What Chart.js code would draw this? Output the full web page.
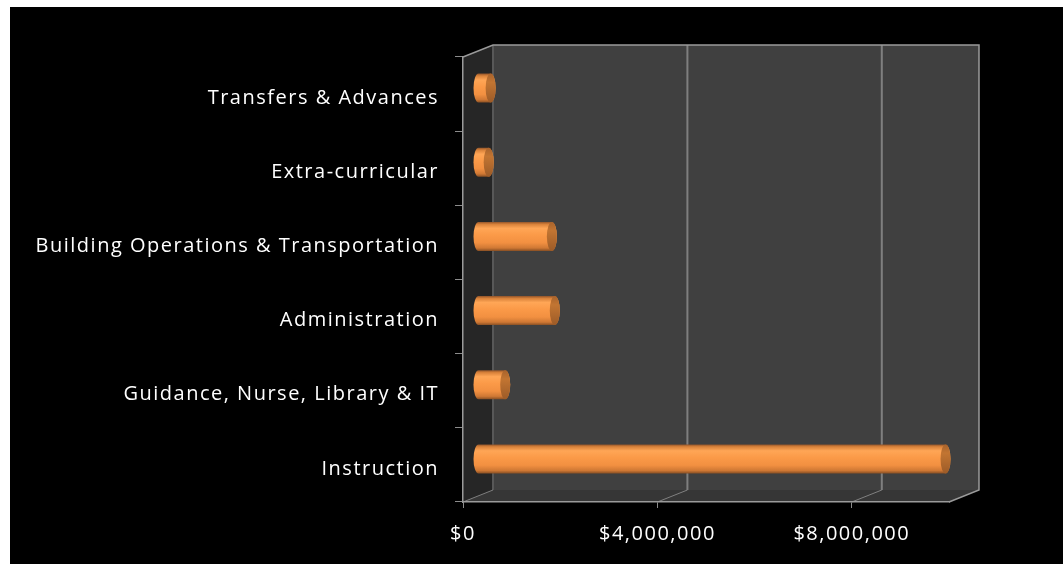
<!DOCTYPE html>
<html>
<head>
<meta charset="utf-8">
<title>Spending by Function</title>
<script src="https://cdn.jsdelivr.net/npm/chart.js@4.4.1/dist/chart.umd.min.js"></script>
<style>
  html, body { margin: 0; padding: 0; background: #ffffff; }
  #wrap { position: absolute; left: 10px; top: 7px; width: 1053px; height: 557px; }
  canvas { display: block; }
</style>
</head>
<body>
<div id="wrap"><canvas id="gastos" width="1053" height="557"></canvas></div>
<script>
// Categorias de cima para baixo e valores gastos (US$)
const categories = [
    "Transfers & Advances",
    "Extra-curricular",
    "Building Operations & Transportation",
    "Administration",
    "Guidance, Nurse, Library & IT",
    "Instruction"
];
const spending = [260000, 220000, 1520000, 1580000, 560000, 9620000];
const tickValues = [0, 4000000, 8000000];
const axisMax = 10000000;

// Deslocamento da profundidade (efeito 3D)
const DX = 30;
const DY = -12;

// Fundo, paredes e grade da parede de trás
const walls = {
    id: 'walls',
    beforeDraw(chart) {
        const ctx = chart.ctx;
        const { left: L, right: R, top: T, bottom: B } = chart.chartArea;
        const xs = chart.scales.x;

        ctx.save();
        ctx.fillStyle = '#000000';
        ctx.fillRect(0, 0, chart.width, chart.height);

        // parede esquerda
        ctx.fillStyle = '#262626';
        ctx.beginPath();
        ctx.moveTo(L, T); ctx.lineTo(L + DX, T + DY); ctx.lineTo(L + DX, B + DY); ctx.lineTo(L, B);
        ctx.closePath(); ctx.fill();

        // chão
        ctx.fillStyle = '#363636';
        ctx.beginPath();
        ctx.moveTo(L, B); ctx.lineTo(L + DX, B + DY); ctx.lineTo(R + DX, B + DY); ctx.lineTo(R, B);
        ctx.closePath(); ctx.fill();

        // parede de trás
        ctx.fillStyle = '#404040';
        ctx.fillRect(L + DX, T + DY, R - L, B - T);

        // linhas de grade verticais na parede de trás + diagonais no chão
        xs.ticks.forEach(t => {
            const px = xs.getPixelForValue(t.value);
            ctx.strokeStyle = t.value === 0 ? '#585858' : '#7f7f7f';
            ctx.lineWidth = 2;
            ctx.beginPath();
            ctx.moveTo(px + DX, T + DY);
            ctx.lineTo(px + DX, B + DY);
            ctx.stroke();
            ctx.strokeStyle = '#808080';
            ctx.lineWidth = 1;
            ctx.beginPath();
            ctx.moveTo(px, B);
            ctx.lineTo(px + DX, B + DY);
            ctx.stroke();
        });

        // bordas
        ctx.strokeStyle = '#9a9a9a';
        ctx.lineWidth = 1.5;
        ctx.beginPath();
        ctx.moveTo(L, T); ctx.lineTo(L + DX, T + DY); ctx.lineTo(R + DX, T + DY);
        ctx.lineTo(R + DX, B + DY); ctx.lineTo(R, B);
        ctx.stroke();
        ctx.restore();

        ctx.letterSpacing = '1.5px';
    }
};

// Barras cilíndricas desenhadas a partir dos elementos do Chart.js
const cylinders = {
    id: 'cylinders',
    afterDatasetsDraw(chart) {
        const ctx = chart.ctx;
        const meta = chart.getDatasetMeta(0);
        meta.data.forEach(bar => {
            const { x, y, base, height } = bar.getProps(['x', 'y', 'base', 'height'], true);
            const x0 = base + DX / 2;
            const x1 = x + DX / 2;
            const cy = y + DY / 2;
            const r = height / 2;
            const rx = 5;

            const body = ctx.createLinearGradient(0, cy - r, 0, cy + r);
            body.addColorStop(0, '#93552a');
            body.addColorStop(0.08, '#d9823a');
            body.addColorStop(0.22, '#ffa656');
            body.addColorStop(0.45, '#fb9a48');
            body.addColorStop(0.72, '#f29041');
            body.addColorStop(0.9, '#cf7834');
            body.addColorStop(1, '#8a5024');

            ctx.save();
            ctx.fillStyle = body;
            ctx.beginPath();
            ctx.moveTo(x0, cy - r);
            ctx.lineTo(x1, cy - r);
            ctx.ellipse(x1, cy, rx, r, 0, -Math.PI / 2, Math.PI / 2);
            ctx.lineTo(x0, cy + r);
            ctx.ellipse(x0, cy, rx, r, 0, Math.PI / 2, Math.PI * 1.5);
            ctx.closePath();
            ctx.fill();

            const cap = ctx.createLinearGradient(0, cy - r, 0, cy + r);
            cap.addColorStop(0, '#a8632c');
            cap.addColorStop(0.3, '#c27532');
            cap.addColorStop(1, '#9c5b28');
            ctx.fillStyle = cap;
            ctx.beginPath();
            ctx.ellipse(x1, cy, rx, r, 0, 0, Math.PI * 2);
            ctx.fill();
            ctx.restore();
        });
    }
};

Chart.defaults.color = '#ffffff';
Chart.defaults.font.family = "'Open Sans', sans-serif";
Chart.defaults.font.size = 20;

new Chart(document.getElementById('gastos'), {
    type: 'bar',
    data: {
        labels: categories,
        datasets: [{
            data: spending,
            backgroundColor: 'rgba(0,0,0,0)',
            borderWidth: 0,
            barPercentage: 0.39,
            categoryPercentage: 1
        }]
    },
    options: {
        indexAxis: 'y',
        responsive: false,
        animation: false,
        layout: { padding: { top: 50, right: 114, bottom: 0, left: 0 } },
        plugins: { legend: { display: false }, tooltip: { enabled: false } },
        scales: {
            x: {
                min: 0,
                max: axisMax,
                afterBuildTicks: scale => { scale.ticks = tickValues.map(v => ({ value: v })); },
                afterFit: scale => { scale.height = 62; },
                grid: { drawOnChartArea: false, drawTicks: true, tickLength: 6, color: '#8c8c8c' },
                border: { display: true, color: '#9a9a9a', width: 1.5 },
                ticks: {
                    maxRotation: 0,
                    autoSkip: false,
                    padding: 14,
                    callback: v => '$' + Number(v).toLocaleString('en-US')
                }
            },
            y: {
                afterFit: scale => { scale.width = 453; },
                grid: { drawOnChartArea: false, drawTicks: true, tickLength: 8, color: '#8c8c8c', offset: true },
                border: { display: true, color: '#9a9a9a', width: 1.5 },
                ticks: { padding: 16, labelOffset: 4 }
            }
        }
    },
    plugins: [walls, cylinders]
});
</script>
</body>
</html>
